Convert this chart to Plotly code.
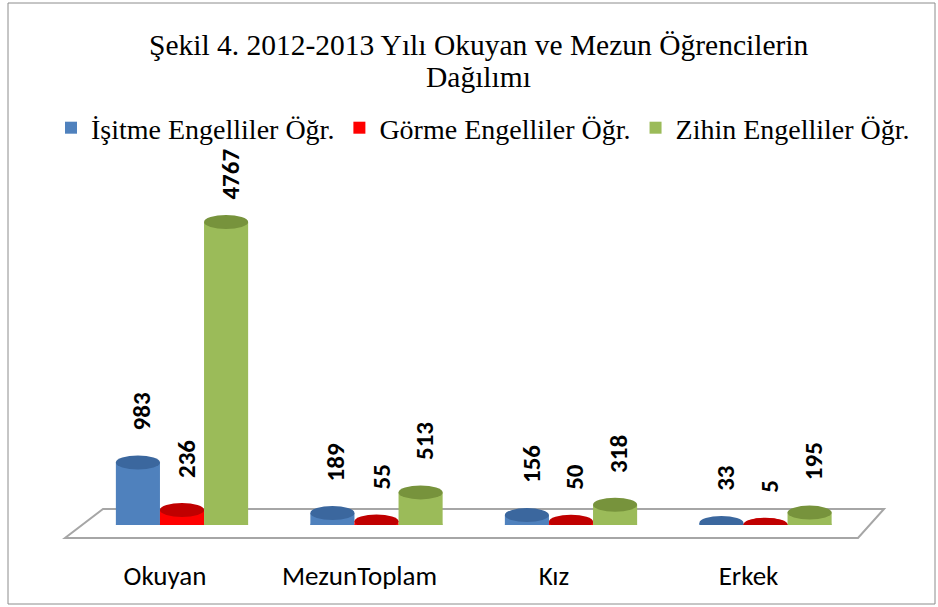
import plotly.graph_objects as go

categories = ["Okuyan", "MezunToplam", "Kız", "Erkek"]
series_names = ["İşitme Engelliler Öğr.", "Görme Engelliler Öğr.", "Zihin Engelliler Öğr."]
isitme = [983, 189, 156, 33]
gorme = [236, 55, 50, 5]
zihin = [4767, 513, 318, 195]
series_values = [isitme, gorme, zihin]
title_lines = ["Şekil 4. 2012-2013 Yılı Okuyan ve Mezun Öğrencilerin", "Dağılımı"]

body_colors = ["#4f81bd", "#ff0000", "#9bbb59"]
cap_colors = ["#3b679e", "#c00000", "#77933c"]

W, H = 938, 607
L, R, T, B = 6, 6, 150, 82
pw, ph = W - L - R, H - T - B

# category slots: first slot centre at pixel 182, slot width 194.5 px
slot_px = 194.5
first_px = 182.0
x_lo = (L - first_px) / slot_px
x_hi = (W - R - first_px) / slot_px

def px(x):
    return (x - L) / pw

def py(y):
    return (H - B - y) / ph

bargap = 0.32
nser = len(series_values)
bw = (1 - bargap) / nser

fig = go.Figure()
shapes = []
annotations = []

# floor (decorative)
shapes.append(dict(type="path", xref="paper", yref="paper", layer="below",
                   path=f"M {px(103)} {py(509)} L {px(884)} {py(509)} L {px(858)} {py(538)} L {px(65)} {py(538)} Z",
                   line=dict(color="#a6a6a6", width=2), fillcolor="white"))

label_font = dict(family="Carlito, Lato, sans-serif", size=25, color="black", weight="bold")

for k, (name, vals) in enumerate(zip(series_names, series_values)):
    fig.add_trace(go.Bar(x=list(range(len(categories))), y=vals, name=name,
                         marker=dict(color=body_colors[k], line=dict(width=0)),
                         width=bw, offset=-(1 - bargap) / 2 + k * bw, hoverinfo="skip"))
    for i, v in enumerate(vals):
        x0 = i - (1 - bargap) / 2 + k * bw
        x1 = x0 + bw
        xc = (x0 + x1) / 2
        shapes.append(dict(type="circle", xref="x", yref="y", layer="below",
                           ysizemode="pixel", yanchor=0, y0=-7, y1=7,
                           x0=x0, x1=x1, fillcolor=body_colors[k], line=dict(width=0)))
        shapes.append(dict(type="circle", xref="x", yref="y", layer="above",
                           ysizemode="pixel", yanchor=v, y0=-7, y1=7,
                           x0=x0, x1=x1, fillcolor=cap_colors[k], line=dict(width=0)))
        annotations.append(dict(x=xc, y=v, xref="x", yref="y", text=str(v),
                                showarrow=False, textangle=-90, yanchor="bottom",
                                yshift=30 if v < 3000 else 20, xshift=4,
                                font=label_font))

for j, line in enumerate(title_lines):
    annotations.append(dict(x=px(479), y=py(45 + 32 * j), xref="paper", yref="paper",
                            text=line, showarrow=False, xanchor="center", yanchor="middle",
                            font=dict(family="Liberation Serif, serif", size=29.5, color="black")))

shapes.append(dict(type="rect", xref="paper", yref="paper", layer="above",
                   x0=px(8), x1=px(935), y0=py(604), y1=py(3),
                   line=dict(color="#8c8c8c", width=1), fillcolor="rgba(0,0,0,0)"))

fig.update_layout(
    width=W, height=H, autosize=False,
    margin=dict(l=L, r=R, t=T, b=B),
    paper_bgcolor="white", plot_bgcolor="rgba(0,0,0,0)",
    legend=dict(orientation="h", x=px(483), xanchor="center",
                y=py(128), yanchor="middle",
                font=dict(family="Liberation Serif, serif", size=28, color="black"),
                bgcolor="rgba(0,0,0,0)", itemwidth=30),
    barmode="overlay",
    showlegend=True,
    hovermode=False,
    shapes=shapes,
    annotations=annotations,
)
fig.update_xaxes(range=[x_lo, x_hi], tickmode="array",
                 tickvals=list(range(len(categories))), ticktext=categories,
                 showgrid=False, zeroline=False, showline=False, ticks="",
                 ticklabelshift=-17, ticklabelstandoff=32,
                 tickfont=dict(family="Carlito, Lato, sans-serif", size=27, color="black"))
fig.update_yaxes(range=[0, 5900], visible=False, showgrid=False, zeroline=False)

fig.write_html("out.html", config={"displayModeBar": False},
               post_script="document.body.style.margin='0';")
